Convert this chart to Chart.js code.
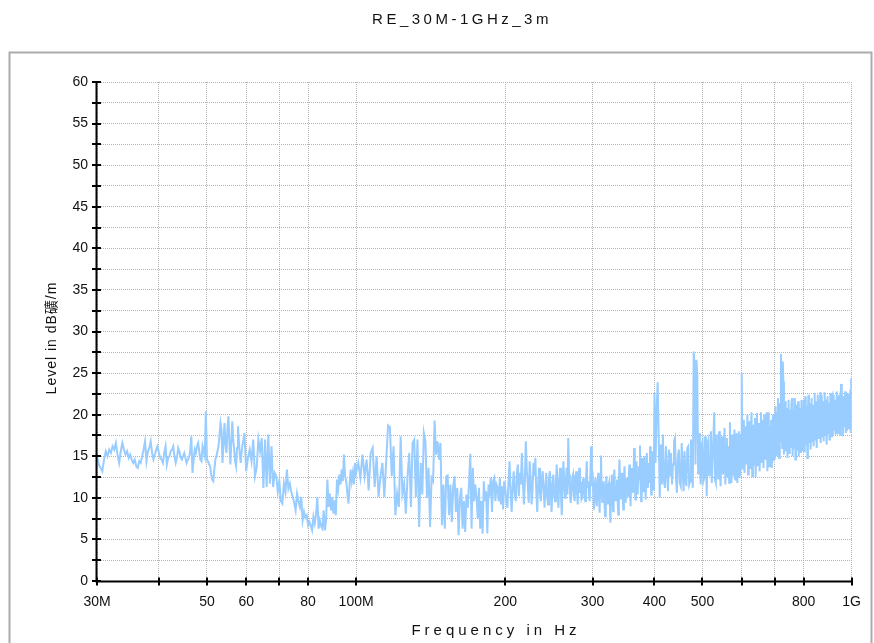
<!DOCTYPE html>
<html><head><meta charset="utf-8">
<script src="https://cdn.jsdelivr.net/npm/chart.js@4.4.1/dist/chart.umd.min.js"></script>
<style>html,body{margin:0;padding:0;background:#fff;overflow:hidden}#wrap{position:absolute;left:0;top:0;width:874px;height:643px}</style>
</head><body><div id="wrap"><canvas id="c" width="874" height="643"></canvas></div>
<script>
const chartTitle = 'RE_30M-1GHz_3m';
const xAxisTitle = 'Frequency in Hz';
const yAxisTitle = 'Level in dB礦/m';
const xTickValues = [30, 40, 50, 60, 70, 80, 100, 200, 300, 400, 500, 600, 700, 800, 1000];
const xTickLabels = ['30M', '', '50', '60', '', '80', '100M', '200', '300', '400', '500', '', '', '800', '1G'];
const yMin = 0, yMax = 60, yTickStep = 2.5, yLabelStep = 5;

// sweep segments (MHz): start frequency and step of each measured segment
const sweepStarts = [30, 60, 100, 200, 400];
const sweepSteps = [0.25, 0.5, 1, 1, 2];

const levels30to60 = [
  15.0,14.0,13.6,13.2,14.6,15.6,15.0,15.8,15.4,16.2,
  15.8,16.6,15.2,14.2,15.6,16.6,15.8,15.2,15.6,14.8,
  15.2,14.6,14.2,14.6,13.8,13.6,14.4,14.2,15.0,15.8,
  16.8,14.4,15.6,16.0,16.8,15.4,14.6,15.2,15.8,16.2,
  15.4,14.8,14.6,14.2,15.4,16.2,14.0,14.8,15.0,15.6,
  15.8,16.2,15.0,14.2,14.8,16.0,15.6,14.8,14.6,15.0,
  15.4,14.8,14.2,14.6,14.8,15.6,17.4,13.0,14.6,15.8,
  15.4,16.2,16.6,15.6,14.6,14.4,16.2,15.6,15.0,20.4,
  14.6,14.4,14.0,13.8,12.8,12.2,12.0,13.4,14.6,15.0,
  15.6,16.2,17.4,19.0,18.2,14.2,16.6,19.0,16.4,15.4,
  18.4,19.8,16.6,14.0,16.8,19.2,17.0,15.8,14.4,13.8,
  16.0,18.6,16.8,15.2,14.2,15.6,16.4,17.0,17.8,15.6];
const levels60to100 = [
  13.2,14.8,15.8,14.4,17.0,12.6,13.6,17.0,15.6,17.2,
  11.2,17.0,11.3,17.6,11.7,16.2,11.3,13.0,12.6,10.7,
  12.0,9.6,9.3,11.7,10.7,13.4,11.1,11.7,10.7,10.1,
  9.4,8.5,10.5,9.6,8.9,10.1,7.3,8.3,7.6,7.9,
  6.7,7.1,6.6,6.1,7.7,6.9,8.0,10.1,6.3,7.3,
  6.6,6.3,8.5,6.1,7.4,12.2,8.9,10.5,8.5,10.1,
  8.1,9.7,7.9,12.2,11.1,12.8,11.6,13.4,12.0,15.2,
  12.6,12.0,10.6,9.3,11.5,13.4,12.0,13.0,11.6,14.2];
const levels100to200 = [
  13.0,14.2,12.4,15.2,12.6,14.6,10.9,15.4,16.0,11.3,
  15.0,10.1,12.6,14.2,10.1,14.4,18.7,18.5,12.6,16.2,
  7.9,10.5,8.9,17.4,10.5,11.7,8.1,12.6,15.4,8.9,
  16.6,17.0,10.1,17.0,6.5,14.2,10.4,17.8,16.8,10.0,
  13.6,6.5,12.4,12.0,19.3,15.2,16.8,14.6,16.6,6.7,
  11.6,6.3,12.6,12.7,7.9,11.6,7.1,11.4,12.6,8.3,
  11.2,5.5,10.0,11.2,6.3,9.6,5.9,10.4,8.8,11.8,
  15.3,6.3,13.6,9.6,11.6,10.0,7.5,11.2,6.3,9.6,
  5.7,12.0,9.6,10.8,5.7,11.6,10.8,12.4,8.3,12.0,
  12.4,9.6,11.6,11.2,9.6,12.4,9.2,11.4,8.6,12.0];
const levels200to400 = [
  11.2,9.6,8.8,12.0,14.4,10.6,8.3,11.4,13.2,10.4,
  9.6,12.8,14.0,10.2,13.0,11.6,15.4,12.0,9.2,11.8,
  16.8,13.4,11.6,9.4,14.4,12.2,9.2,11.0,14.2,12.6,
  14.8,10.8,8.3,11.6,13.6,10.6,9.6,12.4,13.2,11.0,
  8.8,11.4,13.0,10.0,9.2,12.2,13.2,10.8,8.3,11.6,
  12.8,10.4,9.6,11.8,14.0,10.8,8.8,12.2,13.6,10.6,
  7.9,11.2,14.4,12.0,10.0,11.8,13.6,10.4,17.2,12.8,
  11.2,9.4,10.4,12.4,12.8,10.6,9.6,11.6,13.2,10.8,
  9.2,11.8,13.6,10.6,12.0,9.8,10.0,12.2,12.4,10.4,
  9.6,12.0,14.4,11.2,12.0,10.2,9.6,12.6,16.2,11.4,
  13.2,10.6,8.6,11.4,12.4,9.8,9.0,11.6,13.0,10.4,
  8.2,12.2,15.1,10.8,9.4,11.6,12.0,9.6,7.8,10.8,
  12.6,10.2,9.2,11.4,11.8,9.4,7.0,10.6,12.8,10.6,
  8.4,11.8,13.4,10.4,9.6,11.2,12.2,9.8,8.0,11.6,
  14.6,11.2,9.8,12.4,13.0,10.6,8.6,12.0,13.8,11.4,
  9.4,11.8,12.4,10.8,10.2,12.6,14.0,11.2,9.0,12.4,
  13.6,11.4,10.6,13.2,16.0,12.0,9.8,12.6,14.4,11.6,
  10.4,12.8,13.8,12.2,16.3,11.6,9.6,12.4,14.8,12.0,
  10.8,13.2,15.0,12.4,9.8,12.8,15.4,12.6,11.2,13.4,
  14.2,11.8,16.2,13.0,10.4,12.8,15.6,12.2,11.0,13.8];
const levels400to1000 = [
  22.6,14.2,20.5,23.9,17.0,10.0,16.4,11.6,17.6,12.0,
  11.2,16.2,13.0,10.8,15.8,12.6,15.4,11.6,14.0,16.8,
  17.2,12.4,10.6,15.0,15.8,11.8,11.4,16.6,13.2,10.8,
  15.6,12.2,11.4,16.0,16.2,11.6,12.0,17.0,13.4,11.2,
  27.6,25.8,14.0,26.6,24.8,12.8,17.8,13.6,11.6,16.4,
  16.8,12.0,12.4,17.4,14.8,10.2,16.6,17.0,12.6,13.8,
  18.0,11.8,14.6,17.2,20.3,12.2,11.8,17.6,15.0,12.2,
  18.0,13.2,11.4,16.6,17.4,12.8,14.2,18.4,11.6,15.8,
  17.2,12.4,16.2,11.8,19.1,13.0,11.8,17.6,16.4,12.6,
  18.2,12.2,14.8,17.8,11.8,16.6,18.0,12.4,13.6,17.6,
  25.0,13.4,19.4,15.2,13.0,18.6,17.2,14.0,20.0,12.8,
  16.2,19.2,13.6,18.0,20.3,12.6,15.4,18.8,14.0,19.6,
  12.5,17.0,20.2,13.8,14.6,19.0,13.2,18.0,20.3,14.2,
  16.4,19.4,13.6,20.0,15.8,14.6,19.2,20.3,13.2,17.6,
  20.3,13.8,18.6,14.2,19.4,13.6,17.4,20.0,14.4,19.2,
  14.6,21.0,16.4,15.0,20.2,22.0,15.6,14.8,21.4,16.8,
  27.3,22.0,16.0,26.4,24.0,15.2,18.8,21.6,15.6,17.8,
  20.8,14.8,19.6,21.8,15.4,16.8,20.6,16.0,21.4,22.0,
  15.0,18.6,20.6,16.0,22.0,14.6,17.4,21.2,15.8,20.4,
  21.6,15.0,18.2,20.8,16.2,15.4,21.8,17.0,15.6,20.6,
  21.8,15.6,19.0,22.2,16.4,17.8,21.0,14.8,20.2,22.4,
  16.6,18.4,21.4,15.8,17.2,22.0,16.8,20.6,21.2,16.2,
  18.0,22.6,17.0,19.4,21.6,16.0,18.8,22.4,17.2,20.2,
  21.8,17.4,22.7,16.6,19.6,22.4,17.4,21.0,21.6,16.8,
  19.2,22.7,17.6,20.4,21.8,16.4,18.6,22.2,17.8,21.0,
  21.4,17.0,19.8,22.6,18.0,17.4,22.0,22.2,17.4,20.6,
  22.4,18.2,19.6,21.8,17.6,18.8,22.8,18.4,20.8,22.2,
  17.8,19.4,22.4,18.2,17.6,22.0,23.7,18.6,22.6,20.4,
  17.4,20.8,22.2,18.6,19.2,22.8,17.8,20.4,22.0,18.0,
  19.6,22.6,18.4,21.2,22.4,18.2,20.0,23.0,17.8,24.4,
  19.0];
const sweepLevels = [levels30to60, levels60to100, levels100to200, levels200to400, levels400to1000];

const points = [];
sweepLevels.forEach((arr, s) => {
  arr.forEach((v, i) => {
    points.push({ x: +(sweepStarts[s] + i * sweepSteps[s]).toFixed(3), y: v });
  });
});

const FONT = '"Liberation Sans", Arial, "Noto Sans CJK SC", sans-serif';

const framePlugin = {
  id: 'frame',
  afterDraw(chart) {
    const { ctx, chartArea: a, scales } = chart;
    const x = scales.x, y = scales.y;
    ctx.save();
    ctx.strokeStyle = '#ababab';
    ctx.lineWidth = 2;
    ctx.strokeRect(9.5, 52.5, 862, 640);
    ctx.strokeStyle = '#000';
    ctx.lineWidth = 2;
    ctx.beginPath();
    ctx.moveTo(a.left - 0.5, a.top - 1);
    ctx.lineTo(a.left - 0.5, a.bottom + 0.5);
    ctx.lineTo(a.right, a.bottom + 0.5);
    ctx.stroke();
    ctx.beginPath();
    for (let v = yMin; v <= yMax + 1e-9; v += yTickStep) {
      const py = Math.round(y.getPixelForValue(v));
      ctx.moveTo(a.left - 5, py);
      ctx.lineTo(a.left + 4, py);
    }
    xTickValues.forEach(v => {
      const px = Math.round(x.getPixelForValue(v));
      ctx.moveTo(px, a.bottom - 3.5);
      ctx.lineTo(px, a.bottom + 4.5);
    });
    ctx.stroke();
    ctx.fillStyle = '#111';
    ctx.textAlign = 'center';
    ctx.textBaseline = 'alphabetic';
    ctx.font = '15px ' + FONT;
    ctx.letterSpacing = '3.5px';
    ctx.fillText(chartTitle, 462, 23.5);
    ctx.letterSpacing = '4px';
    ctx.fillText(xAxisTitle, 496, 634.5);
    ctx.translate(56, 338);
    ctx.rotate(-Math.PI / 2);
    ctx.font = '14px ' + FONT;
    ctx.letterSpacing = '1px';
    ctx.fillText(yAxisTitle, 0, 0);
    ctx.restore();
  }
};

const gridCommon = { color: '#b4b4b4', lineWidth: 1, drawTicks: false };
const borderCommon = { display: false, dash: [1, 1] };

new Chart(document.getElementById('c').getContext('2d'), {
  type: 'line',
  data: {
    datasets: [{
      data: points,
      borderColor: '#99ccff',
      borderWidth: 2,
      pointRadius: 0,
      fill: false,
      tension: 0
    }]
  },
  options: {
    responsive: false,
    animation: false,
    layout: { padding: { top: 82, right: 22, bottom: 0, left: 0 } },
    plugins: { legend: { display: false }, tooltip: { enabled: false }, title: { display: false } },
    scales: {
      x: {
        type: 'logarithmic',
        min: 30, max: 1000,
        afterBuildTicks: s => { s.ticks = xTickValues.map(v => ({ value: v })); },
        afterFit: s => { s.height = 62; },
        ticks: {
          autoSkip: false, maxRotation: 0, minRotation: 0, padding: 13,
          color: '#111', font: { family: FONT, size: 14 },
          callback: (v) => { const i = xTickValues.indexOf(v); return i >= 0 ? xTickLabels[i] : ''; }
        },
        grid: gridCommon,
        border: borderCommon
      },
      y: {
        min: yMin, max: yMax,
        afterFit: s => { s.width = 97; },
        ticks: {
          stepSize: yTickStep, padding: 9, autoSkip: false,
          color: '#111', font: { family: FONT, size: 14 },
          callback: v => (Math.abs(v % yLabelStep) < 1e-9 ? String(v) : '')
        },
        grid: gridCommon,
        border: borderCommon
      }
    }
  },
  plugins: [framePlugin]
});
</script>
</body></html>
